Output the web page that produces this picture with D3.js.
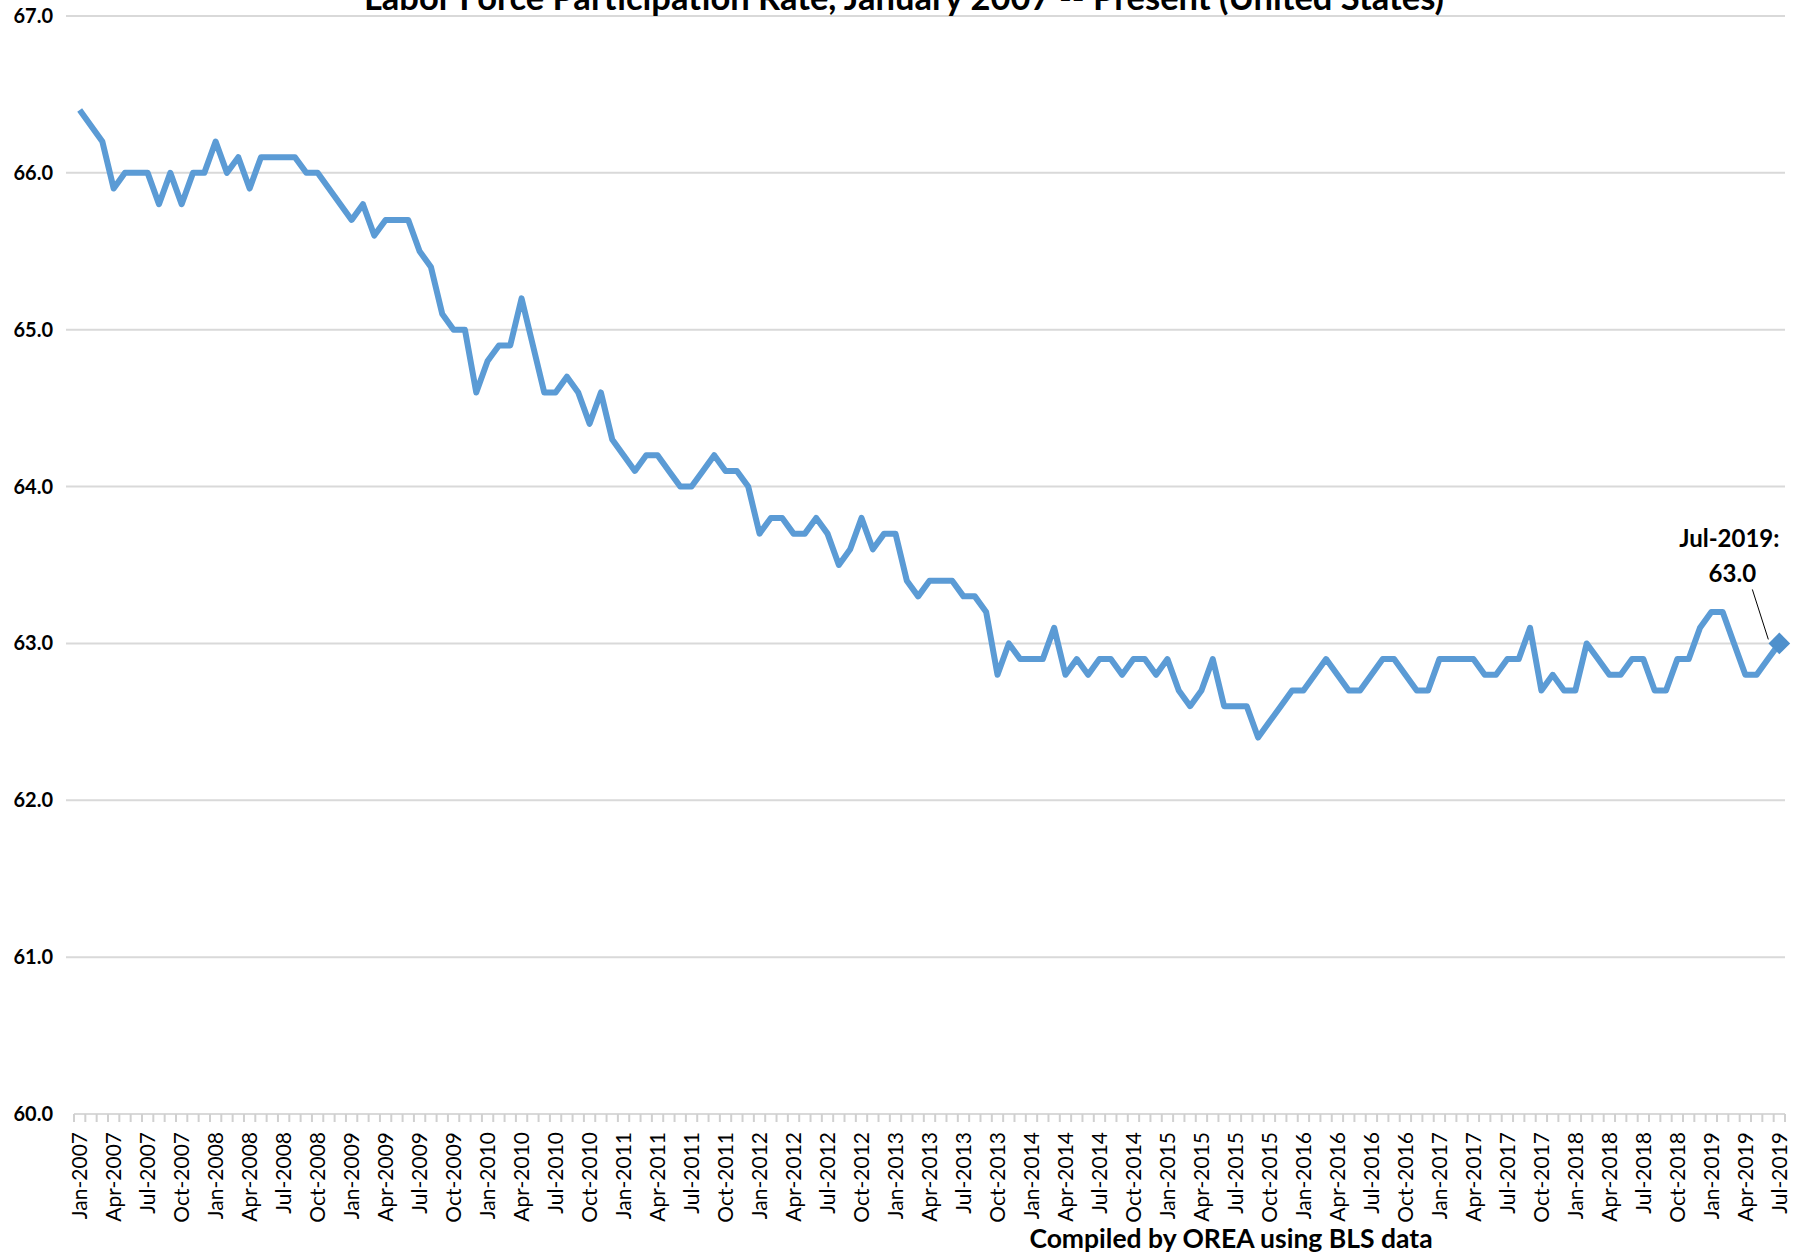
<!DOCTYPE html>
<html>
<head>
<meta charset="utf-8">
<script src="https://cdn.jsdelivr.net/npm/d3@7"></script>
<style>
  body { margin: 0; background: #fff; }
  svg { display: block; font-family: Lato, "Open Sans", sans-serif; }
</style>
</head>
<body>
<div id="chart"></div>
<script>
// month names and years for the category axis
const monthNames = ["Jan", "Feb", "Mar", "Apr", "May", "Jun", "Jul", "Aug", "Sep", "Oct", "Nov", "Dec"];
const years = [2007, 2008, 2009, 2010, 2011, 2012, 2013, 2014, 2015, 2016, 2017, 2018, 2019];
const lastMonthCount = 7; // data ends Jul-2019

// labor force participation rate, monthly
const rates = [
  66.4, 66.3, 66.2, 65.9, 66.0, 66.0, 66.0, 65.8, 66.0, 65.8, 66.0, 66.0,
  66.2, 66.0, 66.1, 65.9, 66.1, 66.1, 66.1, 66.1, 66.0, 66.0, 65.9, 65.8,
  65.7, 65.8, 65.6, 65.7, 65.7, 65.7, 65.5, 65.4, 65.1, 65.0, 65.0, 64.6,
  64.8, 64.9, 64.9, 65.2, 64.9, 64.6, 64.6, 64.7, 64.6, 64.4, 64.6, 64.3,
  64.2, 64.1, 64.2, 64.2, 64.1, 64.0, 64.0, 64.1, 64.2, 64.1, 64.1, 64.0,
  63.7, 63.8, 63.8, 63.7, 63.7, 63.8, 63.7, 63.5, 63.6, 63.8, 63.6, 63.7,
  63.7, 63.4, 63.3, 63.4, 63.4, 63.4, 63.3, 63.3, 63.2, 62.8, 63.0, 62.9,
  62.9, 62.9, 63.1, 62.8, 62.9, 62.8, 62.9, 62.9, 62.8, 62.9, 62.9, 62.8,
  62.9, 62.7, 62.6, 62.7, 62.9, 62.6, 62.6, 62.6, 62.4, 62.5, 62.6, 62.7,
  62.7, 62.8, 62.9, 62.8, 62.7, 62.7, 62.8, 62.9, 62.9, 62.8, 62.7, 62.7,
  62.9, 62.9, 62.9, 62.9, 62.8, 62.8, 62.9, 62.9, 63.1, 62.7, 62.8, 62.7,
  62.7, 63.0, 62.9, 62.8, 62.8, 62.9, 62.9, 62.7, 62.7, 62.9, 62.9, 63.1,
  63.2, 63.2, 63.0, 62.8, 62.8, 62.9, 63.0
];

const yTicks = [60, 61, 62, 63, 64, 65, 66, 67];

const title = "Labor Force Participation Rate, January 2007 -- Present (United States)";
const footer = "Compiled by OREA using BLS data";

// build category labels like "Jan-2007"
const labels = [];
years.forEach((yr, i) => {
  const n = i === years.length - 1 ? lastMonthCount : 12;
  for (let m = 0; m < n; m++) labels.push(`${monthNames[m]}-${yr}`);
});

const data = labels.map((d, i) => ({ label: d, value: rates[i] }));

const width = 1800, height = 1256;
const plot = { left: 74, right: 1785, top: 16, bottom: 1114 };

const svg = d3.select("#chart")
  .append("svg")
  .attr("width", width)
  .attr("height", height);

const x = d3.scaleBand()
  .domain(labels)
  .range([plot.left, plot.right])
  .paddingInner(0)
  .paddingOuter(0);

const y = d3.scaleLinear()
  .domain([60, 67])
  .range([plot.bottom, plot.top]);

// gridlines
svg.append("g")
  .selectAll("line")
  .data(yTicks.filter(t => t !== 60))
  .enter().append("line")
  .attr("x1", plot.left - 8)
  .attr("x2", plot.right)
  .attr("y1", d => y(d))
  .attr("y2", d => y(d))
  .attr("stroke", "#d9d9d9")
  .attr("stroke-width", 2);

// y-axis labels
svg.append("g")
  .selectAll("text")
  .data(yTicks)
  .enter().append("text")
  .attr("x", 53)
  .attr("y", d => y(d))
  .attr("dy", "0.35em")
  .attr("text-anchor", "end")
  .attr("font-size", 20)
  .attr("font-weight", "bold")
  .attr("fill", "#000")
  .text(d => d.toFixed(1));

// x axis line
svg.append("line")
  .attr("x1", plot.left)
  .attr("x2", plot.right)
  .attr("y1", plot.bottom)
  .attr("y2", plot.bottom)
  .attr("stroke", "#d9d9d9")
  .attr("stroke-width", 2);

// tick marks between categories
const tickPos = labels.map(d => x(d)).concat([plot.right]);
svg.append("g")
  .selectAll("line")
  .data(tickPos)
  .enter().append("line")
  .attr("x1", d => d)
  .attr("x2", d => d)
  .attr("y1", plot.bottom)
  .attr("y2", plot.bottom + 8)
  .attr("stroke", "#d0d0d0")
  .attr("stroke-width", 2);

// x labels every 3rd month, rotated
svg.append("g")
  .selectAll("text")
  .data(labels.filter((d, i) => i % 3 === 0))
  .enter().append("text")
  .attr("transform", d => `translate(${x(d) + x.bandwidth() / 2},${plot.bottom + 18}) rotate(-90)`)
  .attr("dy", "0.35em")
  .attr("text-anchor", "end")
  .attr("font-size", 21)
  .attr("fill", "#000")
  .text(d => d);

// the line
const line = d3.line()
  .x(d => x(d.label) + x.bandwidth() / 2)
  .y(d => y(d.value));

svg.append("path")
  .datum(data)
  .attr("fill", "none")
  .attr("stroke", "#5b9bd5")
  .attr("stroke-width", 6)
  .attr("stroke-linejoin", "round")
  .attr("d", line);

// last point marker + annotation
const last = data[data.length - 1];
const lx = x(last.label) + x.bandwidth() / 2;
const ly = y(last.value);

svg.append("path")
  .attr("d", d3.symbol().type(d3.symbolDiamond2).size(300)())
  .attr("transform", `translate(${lx},${ly})`)
  .attr("fill", "#4f90cc");

svg.append("line")
  .attr("x1", lx - 27)
  .attr("y1", ly - 54)
  .attr("x2", lx - 11)
  .attr("y2", ly - 4)
  .attr("stroke", "#000")
  .attr("stroke-width", 1);

const ann = svg.append("text")
  .attr("text-anchor", "middle")
  .attr("font-size", 24)
  .attr("font-weight", "bold")
  .attr("fill", "#000");
ann.append("tspan").attr("x", lx - 50).attr("y", ly - 96).text(`${last.label}:`);
ann.append("tspan").attr("x", lx - 47).attr("y", ly - 61).text(last.value.toFixed(1));

// title (cut at the top, as in the original)
svg.append("text")
  .attr("x", 904)
  .attr("y", 10)
  .attr("text-anchor", "middle")
  .attr("font-size", 34.5)
  .attr("font-weight", "bold")
  .attr("fill", "#000")
  .text(title);

// footer
svg.append("text")
  .attr("x", 1231)
  .attr("y", 1248)
  .attr("text-anchor", "middle")
  .attr("font-size", 26.5)
  .attr("font-weight", "bold")
  .attr("fill", "#000")
  .text(footer);
</script>
</body>
</html>
